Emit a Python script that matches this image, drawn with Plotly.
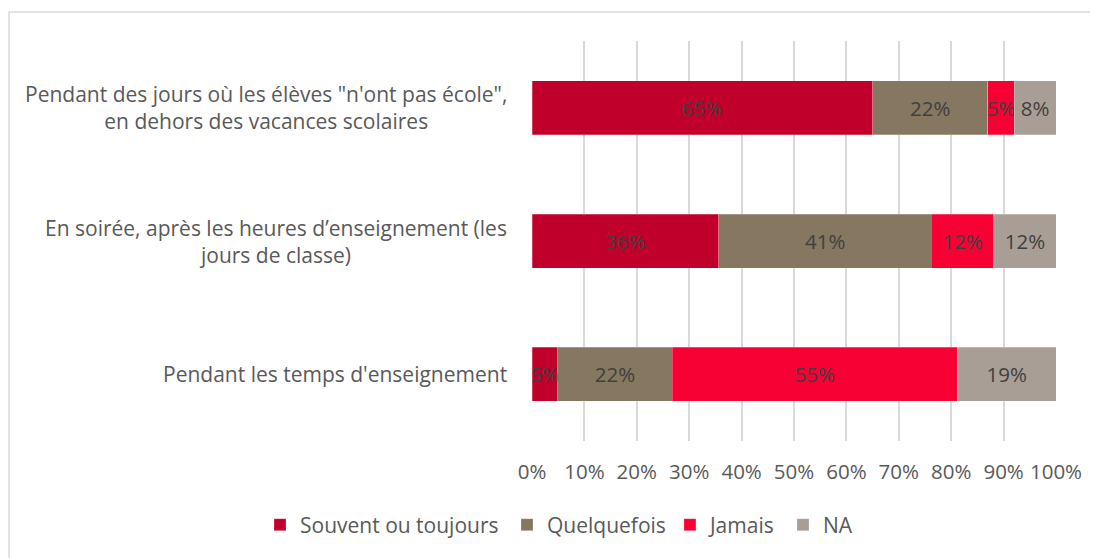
import plotly.graph_objects as go

categories = [
    "Pendant des jours où les élèves \"n'ont pas école\",<br>en dehors des vacances scolaires",
    "En soirée, après les heures d’enseignement (les<br>jours de classe)",
    "Pendant les temps d'enseignement",
]
series_names = ["Souvent ou toujours", "Quelquefois", "Jamais", "NA"]
souvent = [65, 36, 5]
quelquefois = [22, 41, 22]
jamais = [5, 12, 55]
na = [8, 12, 19]
colors = ["#C0002A", "#857760", "#F70034", "#A89E95"]
tick_vals = [0, 10, 20, 30, 40, 50, 60, 70, 80, 90, 100]
tick_text = [f"{v}%" for v in tick_vals]

FONT = "Open Sans"
TXT = "#595959"
FS = 20.5
FS_LBL = 21

legend_ids = ["legend", "legend2", "legend3", "legend4"]
legend_x = [0.2312, 0.4578, 0.6073, 0.7110]

fig = go.Figure()
for name, vals, col, lid in zip(series_names, [souvent, quelquefois, jamais, na], colors, legend_ids):
    fig.add_trace(go.Bar(
        y=categories, x=vals, name=name, orientation="h", legend=lid,
        marker=dict(color=col, line=dict(color="rgba(255,255,255,0.5)", width=0.5)),
        text=[f"{v}%" for v in vals],
        textposition="inside", insidetextanchor="middle", textangle=0,
        textfont=dict(color="#404040", size=FS, family=FONT),
        constraintext="none",
        hoverinfo="skip",
    ))

for cat in categories:
    fig.add_annotation(
        x=-0.043, xref="paper", y=cat, yref="y", text=cat,
        xanchor="right", yanchor="middle", align="center", showarrow=False,
        font=dict(size=FS_LBL, color=TXT, family=FONT),
    )

fig.add_shape(type="rect", xref="paper", yref="paper",
              x0=-0.998, x1=1.15, y0=-0.4, y1=1.0725,
              line=dict(color="#D9D9D9", width=1.5), fillcolor="rgba(0,0,0,0)", layer="below")

legend_common = dict(orientation="h", xref="container", yref="container",
                     xanchor="left", y=0.06, yanchor="middle",
                     font=dict(size=FS_LBL, color=TXT, family=FONT),
                     itemwidth=30, bgcolor="rgba(0,0,0,0)", borderwidth=0)

layout_legends = {lid: dict(legend_common, x=lx) for lid, lx in zip(legend_ids, legend_x)}

fig.update_layout(
    barmode="stack", barnorm="percent", bargap=0.595,
    width=1090, height=550,
    margin=dict(l=524, r=42, t=33, b=117, autoexpand=False),
    paper_bgcolor="white", plot_bgcolor="white",
    font=dict(family=FONT, color=TXT, size=FS),
    uniformtext=dict(mode="show", minsize=FS),
    showlegend=True,
    xaxis=dict(range=[0, 100], tickvals=tick_vals, ticktext=tick_text,
               showgrid=True, gridcolor="#D9D9D9", gridwidth=1.5,
               zeroline=False, showline=False, ticks="", ticklabelstandoff=16,
               automargin=False,
               tickfont=dict(size=FS, color=TXT, family=FONT)),
    yaxis=dict(autorange="reversed", showticklabels=False, showgrid=False,
               zeroline=False, showline=False, ticks="", automargin=False),
    **layout_legends,
)

fig.write_html("out.html")
